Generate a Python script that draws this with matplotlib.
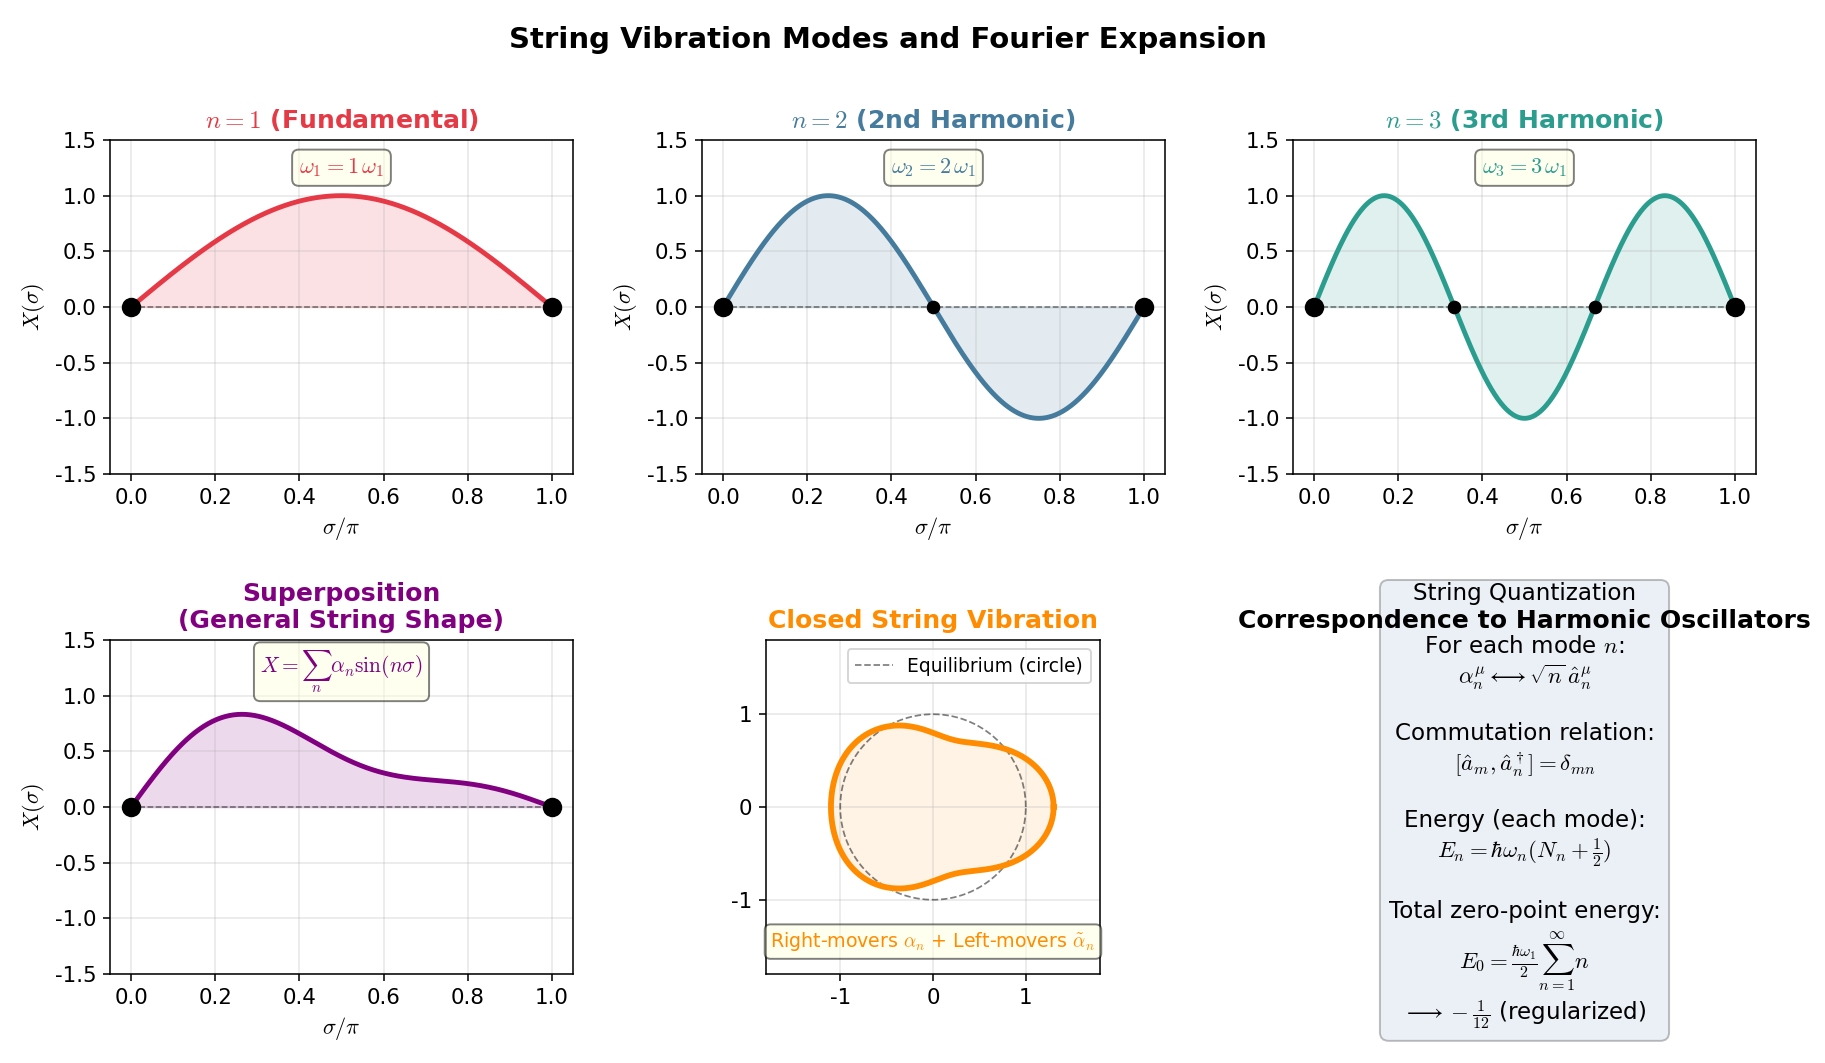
import numpy as np
import matplotlib
matplotlib.use("Agg")
import matplotlib.pyplot as plt

plt.rcParams['axes.unicode_minus'] = False
plt.rcParams['font.family'] = ['DejaVu Sans']
plt.rcParams['mathtext.fontset'] = 'cm'

# ---- data ----
mode_numbers = [1, 2, 3]
mode_names = ["(Fundamental)", "(2nd Harmonic)", "(3rd Harmonic)"]
mode_colors = ["#E63946", "#457B9D", "#2A9D8F"]
super_modes = [1, 2, 3]
super_amps = [0.6, 0.3, 0.15]
closed_modes = [2, 3]
closed_amps = [0.2, 0.1]
yticks_open = [-1.5, -1.0, -0.5, 0.0, 0.5, 1.0, 1.5]
xticks_open = [0.0, 0.2, 0.4, 0.6, 0.8, 1.0]
closed_ticks = [-1, 0, 1]

W, H = 1825, 1063
DPI = 140
fig = plt.figure(figsize=(W / DPI, H / DPI), dpi=DPI)


def frac(l, t, r, b):
    return [l / W, 1 - b / H, (r - l) / W, (b - t) / H]


col_lr = [(110, 573), (702, 1165), (1293, 1756)]
row_tb = [(140, 474), (640, 974)]

sigma = np.linspace(0, 1, 400)


def style_open(ax):
    ax.set_xlim(-0.05, 1.05)
    ax.set_ylim(-1.5, 1.5)
    ax.set_yticks(yticks_open)
    ax.set_yticklabels([f"{v:.1f}" for v in yticks_open])
    ax.set_xticks(xticks_open)
    ax.set_xticklabels([f"{v:.1f}" for v in xticks_open])
    ax.grid(True, alpha=0.3)
    ax.set_xlabel(r"$\sigma/\pi$", fontsize=11.5)
    ax.set_ylabel(r"$X(\sigma)$", fontsize=11.5)
    ax.tick_params(labelsize=11)


for i, (n, name, c) in enumerate(zip(mode_numbers, mode_names, mode_colors)):
    l, r = col_lr[i]
    t, b = row_tb[0]
    ax = fig.add_axes(frac(l, t, r, b))
    y = np.sin(n * np.pi * sigma)
    ax.plot(sigma, y, color=c, lw=2.5, zorder=3)
    ax.fill_between(sigma, 0, y, color=c, alpha=0.15)
    ax.axhline(0, xmin=0.0455, xmax=0.9545, color='k', ls='--', lw=0.8, alpha=0.5)
    ax.plot([0, 1], [0, 0], 'o', color='k', ms=9, zorder=5)
    nodes = [k / n for k in range(1, n)]
    if nodes:
        ax.plot(nodes, [0] * len(nodes), 'o', color='k', ms=6, zorder=5)
    ax.set_title(rf"$n={n}$ {name}", color=c, fontsize=12.9, fontweight='bold')
    ax.text(0.5, 0.917, rf"$\omega_{n} = {n}\,\omega_1$", transform=ax.transAxes,
            ha='center', va='center', fontsize=11.5, color=c,
            bbox=dict(boxstyle='round', facecolor='lightyellow', edgecolor='black', alpha=0.5))
    style_open(ax)

# superposition
l, r = col_lr[0]
t, b = row_tb[1]
ax = fig.add_axes(frac(l, t, r, b))
ys = np.zeros_like(sigma)
for n, a in zip(super_modes, super_amps):
    ys += a * np.sin(n * np.pi * sigma)
ax.plot(sigma, ys, color='purple', lw=2.5, zorder=3)
ax.fill_between(sigma, 0, ys, color='purple', alpha=0.15)
ax.axhline(0, xmin=0.0455, xmax=0.9545, color='k', ls='--', lw=0.8, alpha=0.5)
ax.plot([0, 1], [0, 0], 'o', color='k', ms=9, zorder=5)
ax.set_title("Superposition\n(General String Shape)", color='purple', fontsize=12.9,
             fontweight='bold')
ax.text(0.5, 0.905, r"$X = \sum_n \alpha_n \sin(n\sigma)$", transform=ax.transAxes,
        ha='center', va='center', fontsize=11, color='purple',
        bbox=dict(boxstyle='round', facecolor='lightyellow', edgecolor='black', alpha=0.5))
style_open(ax)

# closed string
ax = fig.add_axes(frac(765, 640, 1101, 974))
theta = np.linspace(0, 2 * np.pi, 500)
rr = np.ones_like(theta)
for m, a in zip(closed_modes, closed_amps):
    rr += a * np.cos(m * theta)
xc, yc = rr * np.cos(theta), rr * np.sin(theta)
ax.plot(np.cos(theta), np.sin(theta), 'k--', lw=0.9, alpha=0.5, label='Equilibrium (circle)')
ax.plot(xc, yc, color='darkorange', lw=3, zorder=3)
ax.fill(xc, yc, color='darkorange', alpha=0.1)
ax.set_xlim(-1.8, 1.8)
ax.set_ylim(-1.8, 1.8)
ax.set_aspect('equal')
ax.set_xticks(closed_ticks)
ax.set_yticks(closed_ticks)
ax.tick_params(labelsize=11)
ax.grid(True, alpha=0.3)
ax.legend(loc='upper right', fontsize=9.6)
ax.set_title("Closed String Vibration", color='darkorange', fontsize=12.9, fontweight='bold')
ax.text(0.5, 0.097, r"Right-movers $\alpha_n$ + Left-movers $\tilde{\alpha}_n$",
        transform=ax.transAxes, ha='center', va='center', fontsize=9.8, color='darkorange',
        bbox=dict(boxstyle='round', facecolor='lightyellow', edgecolor='black', alpha=0.5))

# quantization text
l, r = col_lr[2]
t, b = row_tb[1]
ax = fig.add_axes(frac(l, t, r, b))
ax.axis('off')
ax.set_title("Correspondence to Harmonic Oscillators", fontsize=12.9, fontweight='bold')
txt = ("String Quantization\n\n"
       "For each mode $n$:\n"
       r"$\alpha_n^\mu \longleftrightarrow \sqrt{n}\,\hat{a}_n^\mu$" "\n\n"
       "Commutation relation:\n"
       r"$[\hat{a}_m, \hat{a}_n^\dagger] = \delta_{mn}$" "\n\n"
       "Energy (each mode):\n"
       r"$E_n = \hbar\omega_n(N_n + \frac{1}{2})$" "\n\n"
       "Total zero-point energy:\n"
       r"$E_0 = \frac{\hbar\omega_1}{2}\sum_{n=1}^{\infty} n$" "\n"
       r"$\longrightarrow -\frac{1}{12}$ (regularized)")
ax.text(0.5, 0.5, txt, transform=ax.transAxes, ha='center', va='center', fontsize=11.8,
        linespacing=1.2,
        bbox=dict(boxstyle='round,pad=0.38', facecolor='lightsteelblue', edgecolor='black',
                  alpha=0.25))

fig.suptitle("String Vibration Modes and Fourier Expansion", fontsize=15,
             fontweight='bold', x=0.4866, y=0.9755)

fig.savefig("out.png", dpi=DPI)
